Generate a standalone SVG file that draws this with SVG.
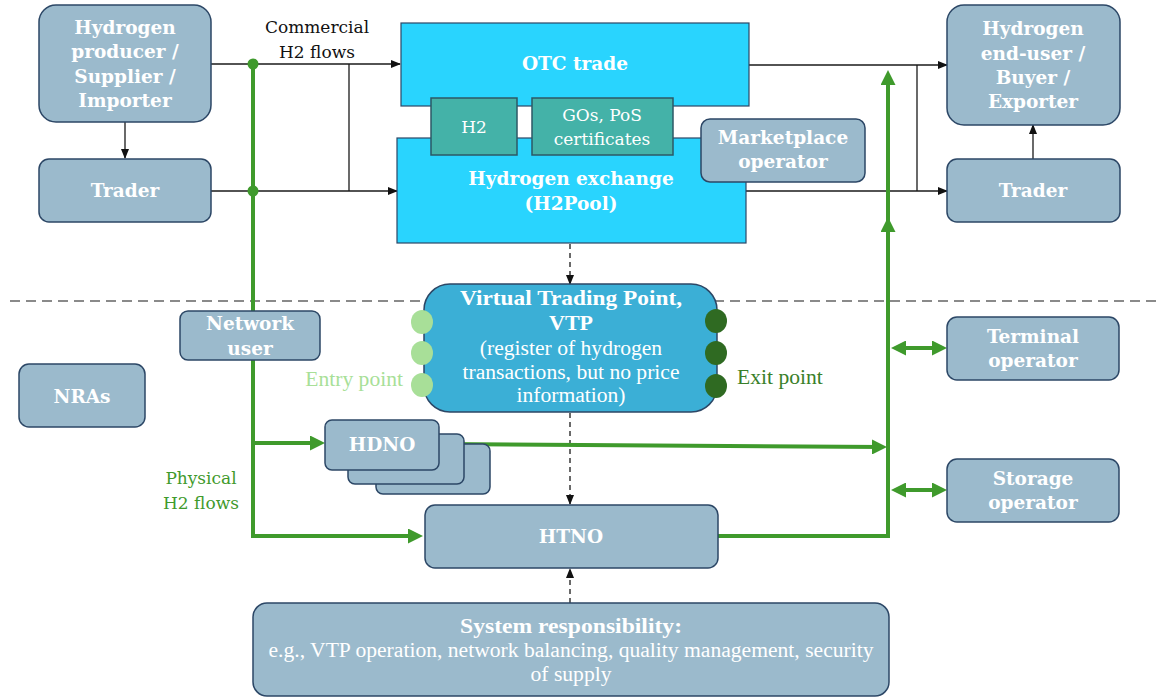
<svg xmlns="http://www.w3.org/2000/svg" width="1160" height="697" viewBox="0 0 1160 697">
<style>
.nd{fill:#9BBACC;stroke:#2C4766;stroke-width:1.5}
.cy{fill:#29D4FE;stroke:#2C4766;stroke-width:1.2}
.tl{fill:#44B2A8;stroke:#2C5866;stroke-width:1.5}
.lb{font-family:"DejaVu Serif",Georgia,serif;font-weight:bold;font-size:18.5px;fill:#fff;text-anchor:middle}
.lr{font-family:"DejaVu Serif",Georgia,serif;font-size:17px;text-anchor:middle}
.cn{font-family:"Liberation Serif","Times New Roman",serif;font-size:21.6px;text-anchor:middle}
.cb{font-family:"Liberation Serif","Times New Roman",serif;font-size:22px;font-weight:bold;text-anchor:middle;fill:#fff}
.bk{fill:none;stroke:#1a1a1a;stroke-width:1.3}
.ds{fill:none;stroke:#1a1a1a;stroke-width:1.3;stroke-dasharray:5 4}
.gr{fill:none;stroke:#3F9A2C;stroke-width:4}
</style>
<defs>
<marker id="ab" markerUnits="userSpaceOnUse" markerWidth="10" markerHeight="10" viewBox="0 0 10 10" refX="9" refY="5" orient="auto"><path d="M0,1 L10,5 L0,9 z" fill="#111"/></marker>
<marker id="ag" markerUnits="userSpaceOnUse" markerWidth="15" markerHeight="15" viewBox="0 0 15 15" refX="11" refY="7.5" orient="auto-start-reverse"><path d="M0,0 L15,7.5 L0,15 z" fill="#3F9A2C"/></marker>
</defs>
<rect width="1160" height="697" fill="#fff"/>
<line x1="10" y1="301" x2="1160" y2="301" stroke="#8a8a8a" stroke-width="2" stroke-dasharray="10 6"/>
<g id="connectors">
<path class="bk" d="M125,122 V158" marker-end="url(#ab)"/>
<path class="bk" d="M211,64 H400" marker-end="url(#ab)"/>
<path class="bk" d="M211,191 H397" marker-end="url(#ab)"/>
<path class="bk" d="M349,64 V191"/>
<path class="bk" d="M749,65 H947" marker-end="url(#ab)"/>
<path class="bk" d="M746,191 H947" marker-end="url(#ab)"/>
<path class="bk" d="M917,65 V191"/>
<path class="bk" d="M1033,159 V125" marker-end="url(#ab)"/>
<path class="ds" d="M570,244 V284" marker-end="url(#ab)"/>
<path class="ds" d="M570,413 V504" marker-end="url(#ab)"/>
<path class="ds" d="M570,603 V569" marker-end="url(#ab)"/>
<path class="gr" d="M253,64 V536 H419" marker-end="url(#ag)"/>
<path class="gr" d="M253,443 H321" marker-end="url(#ag)"/>
<path class="gr" d="M440,444 L883,447" marker-end="url(#ag)"/>
<path class="gr" d="M718,536 H888 V221" marker-end="url(#ag)"/>
<path class="gr" d="M888,262 V74" marker-end="url(#ag)"/>
<path class="gr" d="M895,348 H943" marker-start="url(#ag)" marker-end="url(#ag)"/>
<path class="gr" d="M895,490 H943" marker-start="url(#ag)" marker-end="url(#ag)"/>
<circle cx="253" cy="64" r="5.5" fill="#3F9A2C"/>
<circle cx="253" cy="191" r="5.5" fill="#3F9A2C"/>
</g>
<g id="producer"><rect class="nd" x="39" y="5" width="172" height="117" rx="17"/>
<text class="lb" x="125" y="34">Hydrogen</text><text class="lb" x="125" y="58">producer /</text><text class="lb" x="125" y="83">Supplier /</text><text class="lb" x="125" y="107">Importer</text></g>
<g id="trader-left"><rect class="nd" x="39" y="159" width="172" height="63" rx="10"/><text class="lb" x="125" y="197">Trader</text></g>
<g id="commercial-label"><text class="lr" x="317" y="33" fill="#111">Commercial</text><text class="lr" x="317" y="58" fill="#111">H2 flows</text></g>
<g id="otc"><rect class="cy" x="401" y="23" width="348" height="83"/><text class="lb" x="575" y="70">OTC trade</text></g>
<g id="exchange"><rect class="cy" x="397" y="138" width="349" height="105"/><text class="lb" x="571" y="185">Hydrogen exchange</text><text class="lb" x="571" y="210">(H2Pool)</text></g>
<g id="h2"><rect class="tl" x="431" y="98" width="86" height="57"/><text class="lr" x="474" y="133" fill="#fff">H2</text></g>
<g id="gos"><rect class="tl" x="532" y="98" width="141" height="57"/><text class="lr" x="602" y="121" fill="#fff">GOs, PoS</text><text class="lr" x="602" y="145" fill="#fff">certificates</text></g>
<g id="marketplace"><rect class="nd" x="701" y="119" width="164" height="63" rx="9"/><text class="lb" x="783" y="144">Marketplace</text><text class="lb" x="783" y="168">operator</text></g>
<g id="enduser"><rect class="nd" x="947" y="5" width="173" height="120" rx="17"/>
<text class="lb" x="1033" y="35">Hydrogen</text><text class="lb" x="1033" y="60">end-user /</text><text class="lb" x="1033" y="84">Buyer /</text><text class="lb" x="1033" y="108">Exporter</text></g>
<g id="trader-right"><rect class="nd" x="947" y="159" width="173" height="63" rx="10"/><text class="lb" x="1033" y="197">Trader</text></g>
<g id="vtp"><rect x="424" y="284" width="293" height="128" rx="26" fill="#3BAFD6" stroke="#2C4766" stroke-width="1.5"/>
<text class="cb" x="571" y="305" textLength="222" lengthAdjust="spacingAndGlyphs">Virtual Trading Point,</text><text class="cb" x="571" y="330">VTP</text>
<text class="cn" x="571" y="355" fill="#fff">(register of hydrogen</text><text class="cn" x="571" y="379" fill="#fff">transactions, but no price</text><text class="cn" x="571" y="402" fill="#fff">information)</text>
<ellipse cx="422" cy="322" rx="11" ry="12" fill="#A8DF98"/><ellipse cx="422" cy="353" rx="11" ry="12" fill="#A8DF98"/><ellipse cx="422" cy="385" rx="11" ry="12" fill="#A8DF98"/>
<ellipse cx="716" cy="321" rx="11" ry="12" fill="#2F6A22"/><ellipse cx="716" cy="353" rx="11" ry="12" fill="#2F6A22"/><ellipse cx="716" cy="386" rx="11" ry="12" fill="#2F6A22"/>
<text class="cn" x="403" y="386" fill="#A8DF98" style="text-anchor:end">Entry point</text>
<text class="cn" x="737" y="384" fill="#3A7F2A" style="text-anchor:start">Exit point</text></g>
<g id="network-user"><rect class="nd" x="180" y="311" width="140" height="49" rx="8"/><text class="lb" x="250" y="330">Network</text><text class="lb" x="250" y="355">user</text></g>
<g id="nras"><rect class="nd" x="19" y="364" width="126" height="63" rx="10"/><text class="lb" x="82" y="403">NRAs</text></g>
<g id="hdno"><rect class="nd" x="376" y="444" width="114" height="50" rx="7"/><rect class="nd" x="348" y="434" width="116" height="50" rx="7"/><rect class="nd" x="325" y="420" width="114" height="50" rx="7"/><text class="lb" x="382" y="451">HDNO</text></g>
<g id="physical-label"><text class="lr" x="201" y="484" fill="#3F9A2C">Physical</text><text class="lr" x="201" y="509" fill="#3F9A2C">H2 flows</text></g>
<g id="htno"><rect class="nd" x="425" y="505" width="293" height="63" rx="10"/><text class="lb" x="571" y="543">HTNO</text></g>
<g id="terminal"><rect class="nd" x="947" y="317" width="172" height="63" rx="10"/><text class="lb" x="1033" y="343">Terminal</text><text class="lb" x="1033" y="367">operator</text></g>
<g id="storage"><rect class="nd" x="947" y="459" width="172" height="63" rx="10"/><text class="lb" x="1033" y="485">Storage</text><text class="lb" x="1033" y="509">operator</text></g>
<g id="system"><rect class="nd" x="253" y="603" width="636" height="93" rx="14"/><text class="cb" x="571" y="633" textLength="222" lengthAdjust="spacingAndGlyphs">System responsibility:</text><text class="cn" x="571" y="657" fill="#fff">e.g., VTP operation, network balancing, quality management, security</text><text class="cn" x="571" y="681" fill="#fff">of supply</text></g>
</svg>
